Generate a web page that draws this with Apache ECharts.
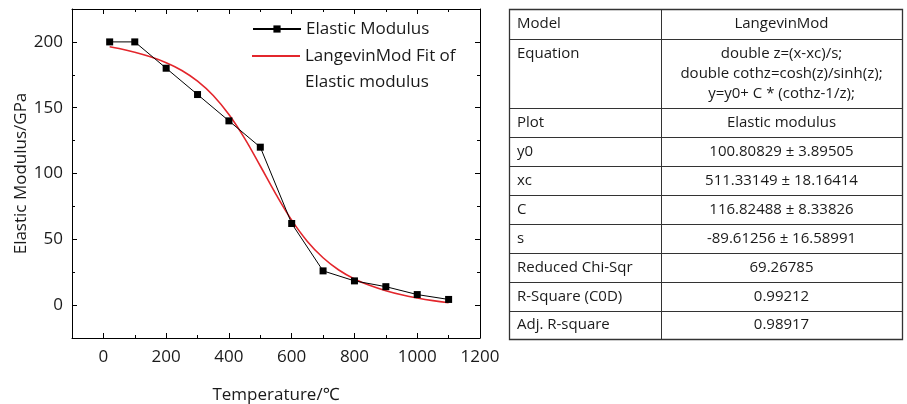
<!DOCTYPE html>
<html>
<head>
<meta charset="utf-8">
<script src="https://cdn.jsdelivr.net/npm/echarts@6/dist/echarts.min.js"></script>
<style>
  html, body { margin: 0; padding: 0; background: #fff; }
  #chart { width: 907px; height: 404px; }
</style>
</head>
<body>
<div id="chart"></div>
<script>
// Measured elastic modulus versus temperature
const temps = [20, 100, 200, 300, 400, 500, 600, 700, 800, 900, 1000, 1100];
const modulus = [200, 200, 180, 160, 140, 120, 62, 26, 18.4, 14, 8, 4.3];

// Sampled LangevinMod fit curve
const fitTemps = [20, 50, 100, 150, 200, 250, 300, 350, 400, 450, 500, 550, 600,
                  650, 700, 750, 800, 850, 900, 950, 1000, 1050, 1100];
const fitValues = [196.3, 195.0, 192.2, 188.7, 184.2, 178.3, 170.2, 159.3, 144.8,
                   126.7, 105.7, 84.2, 64.6, 48.4, 36.0, 26.7, 19.9, 14.8, 10.9,
                   7.8, 5.4, 3.4, 1.8];

// Axis ticks: labelled (major) values and the full tick grid incl. minor ticks
const xMajorTicks = [0, 200, 400, 600, 800, 1000, 1200];
const xTickGrid = [-100, 0, 100, 200, 300, 400, 500, 600, 700, 800, 900, 1000, 1100, 1200];
const yMajorTicks = [0, 50, 100, 150, 200];
const yTickGrid = [-25, 0, 25, 50, 75, 100, 125, 150, 175, 200, 225];

// Fit report table
const reportLabels = ['Model', 'Equation', 'Plot', 'y0', 'xc', 'C', 's',
                      'Reduced Chi-Sqr', 'R-Square (C0D)', 'Adj. R-square'];
const reportValues = [
  'LangevinMod',
  'double z=(x-xc)/s;\ndouble cothz=cosh(z)/sinh(z);\ny=y0+ C * (cothz-1/z);',
  'Elastic modulus',
  '100.80829 \u00b1 3.89505',
  '511.33149 \u00b1 18.16414',
  '116.82488 \u00b1 8.33826',
  '-89.61256 \u00b1 16.58991',
  '69.26785',
  '0.99212',
  '0.98917'
];

const FONT = '"Open Sans", "Noto Sans", sans-serif';
const INK = '#1a1a1a';

// Table geometry
const tLeft = 509, tRight = 902, tDivider = 661;
const rowEdges = [9, 39, 108, 137, 166, 195, 224, 253, 282, 311, 339];

function buildTable() {
  const els = [];
  els.push({
    type: 'rect', silent: true,
    shape: { x: tLeft + 0.5, y: rowEdges[0] + 0.5, width: tRight - tLeft, height: rowEdges[rowEdges.length - 1] - rowEdges[0] },
    style: { fill: 'none', stroke: '#333', lineWidth: 1.3 }
  });
  els.push({
    type: 'line', silent: true,
    shape: { x1: tDivider + 0.5, y1: rowEdges[0], x2: tDivider + 0.5, y2: rowEdges[rowEdges.length - 1] },
    style: { stroke: '#333', lineWidth: 1 }
  });
  for (let i = 1; i < rowEdges.length - 1; i++) {
    els.push({
      type: 'line', silent: true,
      shape: { x1: tLeft, y1: rowEdges[i] + 0.5, x2: tRight, y2: rowEdges[i] + 0.5 },
      style: { stroke: '#333', lineWidth: 1 }
    });
  }
  reportLabels.forEach(function (label, i) {
    const top = rowEdges[i], bottom = rowEdges[i + 1];
    const multi = reportValues[i].indexOf('\n') >= 0;
    const mid = (top + bottom) / 2;
    const labelY = multi ? mid - 20 : mid;
    els.push({
      type: 'text', silent: true,
      style: {
        text: label, x: tLeft + 8, y: labelY,
        font: '15px ' + FONT, fill: INK,
        align: 'left', verticalAlign: 'middle',
        textAlign: 'left', textVerticalAlign: 'middle'
      }
    });
    els.push({
      type: 'text', silent: true,
      style: {
        text: reportValues[i], x: (tDivider + tRight) / 2, y: mid,
        font: '15px ' + FONT, fill: INK, lineHeight: 20,
        align: 'center', verticalAlign: 'middle',
        textAlign: 'center', textVerticalAlign: 'middle'
      }
    });
  });
  return els;
}

function plainNumber(v) { return String(v); }

const AXIS_LINE = { color: '#000', width: 1 };

// Value axes carrying the data scale, labels and axis names
function valueAxis(position, min, max, labels, name, gap, margin) {
  return {
    type: 'value', position: position, min: min, max: max,
    name: name, nameLocation: 'middle', nameGap: gap,
    nameTextStyle: { fontFamily: FONT, fontSize: 17, color: INK },
    axisLine: { show: true, onZero: false, lineStyle: AXIS_LINE },
    axisTick: { show: false },
    axisLabel: { show: true, customValues: labels, margin: margin, formatter: plainNumber,
                 fontFamily: FONT, fontSize: 17, color: INK },
    splitLine: { show: false }
  };
}

// Overlay axes that only draw inward tick marks (long for labelled values, short otherwise)
function tickAxis(position, grid, majors, wantMajor, len, showLine) {
  return {
    type: 'category', position: position, boundaryGap: false,
    data: grid.map(String),
    axisLine: { show: showLine, onZero: false, lineStyle: AXIS_LINE },
    axisTick: {
      show: true, inside: true, length: len, lineStyle: AXIS_LINE,
      interval: function (idx) {
        if (idx === 0 || idx === grid.length - 1) return false;
        return majors.indexOf(grid[idx]) >= 0 ? wantMajor : !wantMajor;
      }
    },
    axisLabel: { show: false },
    splitLine: { show: false }
  };
}

const chart = echarts.init(document.getElementById('chart'), null, { renderer: 'canvas' });

chart.setOption({
  animation: false,
  backgroundColor: '#fff',
  grid: { left: 72, top: 9, width: 408, height: 329, containLabel: false, outerBoundsMode: 'none' },
  xAxis: [
    valueAxis('bottom', -100, 1200, xMajorTicks, 'Temperature/\u2103', 49, 11),
    tickAxis('bottom', xTickGrid, xMajorTicks, true, 5, false),
    tickAxis('bottom', xTickGrid, xMajorTicks, false, 3, false),
    tickAxis('top', xTickGrid, xMajorTicks, true, 5, true),
    tickAxis('top', xTickGrid, xMajorTicks, false, 3, false)
  ],
  yAxis: [
    valueAxis('left', -25, 225, yMajorTicks, 'Elastic Modulus/GPa', 42, 9),
    tickAxis('left', yTickGrid, yMajorTicks, true, 5, false),
    tickAxis('left', yTickGrid, yMajorTicks, false, 3, false),
    tickAxis('right', yTickGrid, yMajorTicks, true, 5, true),
    tickAxis('right', yTickGrid, yMajorTicks, false, 3, false)
  ],
  legend: [
    {
      data: ['Elastic Modulus'],
      left: 252, top: 16, padding: 0,
      itemWidth: 48, itemHeight: 9,
      textStyle: { fontFamily: FONT, fontSize: 17, color: INK, lineHeight: 26 },
      selectedMode: false
    },
    {
      data: [{ name: 'LangevinMod Fit of Elastic modulus', icon: 'rect' }],
      left: 252, top: 17, padding: 0,
      itemWidth: 48, itemHeight: 2,
      // first line is blank so the red swatch sits beside the first printed line
      formatter: function () { return '\u00a0\nLangevinMod Fit of\nElastic modulus'; },
      textStyle: { fontFamily: FONT, fontSize: 17, color: INK, lineHeight: 26 },
      selectedMode: false
    }
  ],
  series: [
    {
      name: 'LangevinMod Fit of Elastic modulus',
      type: 'line',
      data: fitTemps.map(function (t, i) { return [t, fitValues[i]]; }),
      smooth: 0.4,
      symbol: 'none',
      lineStyle: { color: '#e3262c', width: 1.6 },
      itemStyle: { color: '#e3262c' },
      z: 2
    },
    {
      name: 'Elastic Modulus',
      type: 'line',
      data: temps.map(function (t, i) { return [t, modulus[i]]; }),
      symbol: 'rect',
      symbolSize: 7,
      lineStyle: { color: '#000', width: 1 },
      itemStyle: { color: '#000' },
      z: 3
    }
  ],
  graphic: { elements: buildTable() }
});
</script>
</body>
</html>
